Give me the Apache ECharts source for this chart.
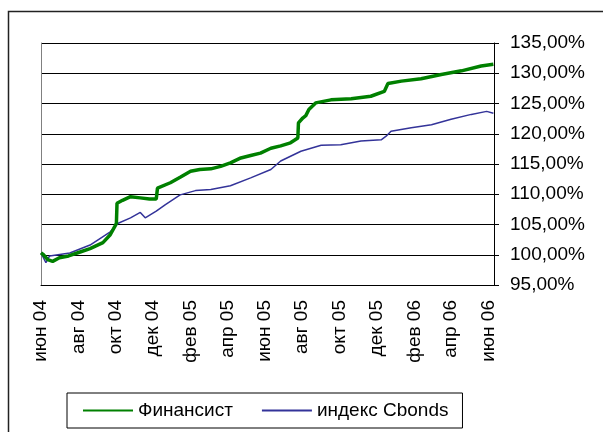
<!DOCTYPE html>
<html>
<head>
<meta charset="utf-8">
<script src="https://cdn.jsdelivr.net/npm/echarts@6/dist/echarts.min.js"></script>
<style>
html,body{margin:0;padding:0;background:#fff;}
#c{width:603px;height:432px;}
</style>
</head>
<body>
<div id="c"></div>
<script>
// ---- data ----
var seriesNames = ['Финансист', 'индекс Cbonds'];

var finansistDates = ['2004-06-01','2004-06-05','2004-06-12','2004-06-20','2004-07-01','2004-07-16','2004-08-05','2004-08-20','2004-09-10','2004-09-22','2004-09-29','2004-10-02','2004-10-03','2004-10-12','2004-10-25','2004-11-10','2004-11-25','2004-12-06','2004-12-08','2004-12-29','2005-01-14','2005-01-31','2005-02-15','2005-03-05','2005-03-21','2005-04-06','2005-04-23','2005-05-09','2005-05-25','2005-06-11','2005-06-27','2005-07-13','2005-07-25','2005-07-26','2005-08-02','2005-08-07','2005-08-12','2005-08-23','2005-09-17','2005-10-20','2005-11-21','2005-12-13','2005-12-19','2006-01-10','2006-02-11','2006-03-16','2006-04-18','2006-05-20','2006-06-09'];
var finansistValues = [100.3,100.0,99.2,98.9,99.5,99.8,100.5,101.0,102.0,103.3,104.6,105.2,108.5,109.0,109.6,109.4,109.2,109.2,111.0,111.9,112.8,113.8,114.1,114.2,114.6,115.2,116.0,116.4,116.8,117.6,118.0,118.5,119.3,121.8,122.6,123.0,124.0,125.1,125.6,125.8,126.2,127.0,128.3,128.7,129.1,129.8,130.4,131.2,131.5];

var cbondsDates = ['2004-06-01','2004-06-09','2004-06-15','2004-07-18','2004-08-20','2004-09-22','2004-10-05','2004-10-25','2004-11-10','2004-11-18','2004-12-06','2004-12-21','2005-01-14','2005-02-08','2005-03-05','2005-04-06','2005-05-09','2005-06-11','2005-06-27','2005-07-30','2005-09-01','2005-10-03','2005-11-05','2005-12-08','2005-12-16','2005-12-24','2006-01-26','2006-02-28','2006-04-01','2006-05-04','2006-05-29','2006-06-09'];
var cbondsValues = [100.3,98.7,99.8,100.3,101.6,103.8,105.2,106.1,107.0,106.1,107.2,108.3,109.9,110.6,110.8,111.4,112.7,114.1,115.5,117.1,118.1,118.2,118.8,119.0,119.6,120.4,121.0,121.5,122.4,123.2,123.7,123.4];

var xTickDates = ['2004-06-01','2004-08-01','2004-10-01','2004-12-01','2005-02-01','2005-04-01','2005-06-01','2005-08-01','2005-10-01','2005-12-01','2006-02-01','2006-04-01','2006-06-01'];
var xTickLabels = ['июн 04','авг 04','окт 04','дек 04','фев 05','апр 05','июн 05','авг 05','окт 05','дек 05','фев 06','апр 06','июн 06'];
var yMin = 95, yMax = 135, yStep = 5;

// ---- build ----
function ts(s){ var p = s.split('-'); return Date.UTC(+p[0], +p[1]-1, +p[2]); }
function pairs(d, v){ return d.map(function(s,i){ return [ts(s), v[i]]; }); }
var tickTs = xTickDates.map(ts);

var FONT = 'Liberation Sans, Arial, sans-serif';
var chart = echarts.init(document.getElementById('c'), null, {renderer:'canvas'});
chart.setOption({
  animation:false,
  backgroundColor:'#fff',
  textStyle:{fontFamily:FONT},
  grid:{left:41, right:109, top:43, bottom:147, containLabel:false},
  xAxis:{
    type:'value',
    min: ts('2004-06-01'),
    max: ts('2006-06-10'),
    axisLine:{show:true, lineStyle:{color:'#000', width:1}},
    axisTick:{show:false},
    splitLine:{show:false},
    axisLabel:{
      customValues: tickTs,
      rotate:90,
      margin:15,
      color:'#000',
      fontSize:19,
      fontFamily:FONT,
      hideOverlap:false,
      showMinLabel:true,
      showMaxLabel:true,
      formatter:function(val){
        var best=0, bd=Infinity;
        for (var i=0;i<tickTs.length;i++){ var d=Math.abs(tickTs[i]-val); if(d<bd){bd=d;best=i;} }
        return xTickLabels[best];
      }
    }
  },
  yAxis:[{
    type:'value',
    position:'right',
    min:yMin, max:yMax, interval:yStep,
    axisLine:{show:true, lineStyle:{color:'#000', width:1}},
    axisTick:{show:true, length:5, lineStyle:{color:'#000'}},
    splitLine:{show:true, lineStyle:{color:'#000', width:1}},
    axisLabel:{
      color:'#000', fontSize:19, fontFamily:FONT, margin:16,
      formatter:function(v){ return v.toFixed(2).replace('.', ',') + '%'; }
    }
  },{
    type:'value',
    position:'left',
    min:yMin, max:yMax, interval:yStep,
    axisLine:{show:true, lineStyle:{color:'#808080', width:1}},
    axisTick:{show:false},
    axisLabel:{show:false},
    splitLine:{show:false}
  }],
  legend:{
    left:67, top:393,
    padding:[8,14,8,15],
    borderColor:'#000', borderWidth:1,
    itemWidth:50, itemHeight:14, itemGap:28,
    itemStyle:{opacity:0},
    textStyle:{color:'#000', fontSize:19, fontFamily:FONT},
    data: seriesNames
  },
  series:[{
    name:seriesNames[0], type:'line', symbol:'none', smooth:false,
    lineStyle:{color:'#008000', width:3.5},
    itemStyle:{color:'#008000'},
    data:pairs(finansistDates, finansistValues),
    z:3
  },{
    name:seriesNames[1], type:'line', symbol:'none', smooth:false,
    lineStyle:{color:'#333399', width:1.5},
    itemStyle:{color:'#333399'},
    data:pairs(cbondsDates, cbondsValues),
    z:2
  }],
  graphic:[{
    type:'rect', left:6, top:9, silent:true,
    shape:{x:0, y:0, width:700, height:500},
    style:{fill:'none', stroke:'#222', lineWidth:1.5}
  }]
});
</script>
</body>
</html>
